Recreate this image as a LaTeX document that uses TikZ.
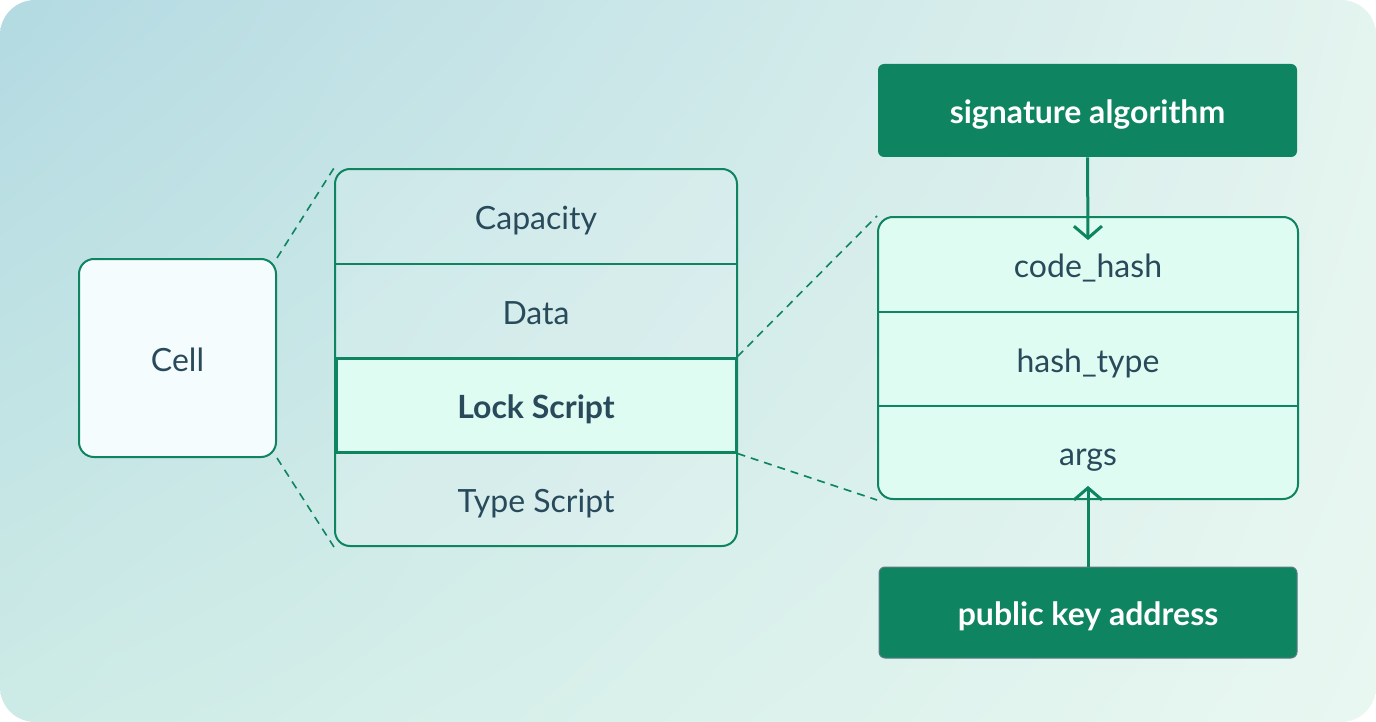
\documentclass[tikz,border=0pt]{standalone}
\usepackage{fontspec}
\setmainfont{Lato}
\usetikzlibrary{arrows.meta,shadings}
\definecolor{cellgreen}{HTML}{0E8560}
\definecolor{inktext}{HTML}{284A5B}
\definecolor{mint}{HTML}{DFFCF2}
\definecolor{paleblue}{HTML}{F5FCFE}
\definecolor{edgegrey}{HTML}{5E7C85}
\definecolor{bgtl}{HTML}{B3DAE2}
\definecolor{bgtr}{HTML}{E4F4EF}
\definecolor{bgbl}{HTML}{CDEBE6}
\definecolor{bgbr}{HTML}{E9F7F1}
\tikzset{
  box/.style={draw=cellgreen, line width=1pt, rounded corners=7.5pt, inner sep=0pt},
  row/.style={inner sep=0pt, text=inktext, text height=13pt, text depth=0pt,
    font=\fontsize{16}{19}\selectfont},
  sep/.style={draw=cellgreen, line width=1pt},
  dashlink/.style={cellgreen, line width=0.8pt, dash pattern=on 4pt off 3pt},
  darkbox/.style={fill=cellgreen, rounded corners=3pt, text=white, inner sep=0pt,
    text height=13pt, text depth=0pt, font=\fontsize{16}{19}\selectfont\bfseries},
  feed/.style={cellgreen, line width=1.5pt,
    -{Straight Barb[length=6pt,width=14pt,line width=1.5pt]}}
}
\begin{document}
\begin{tikzpicture}[x=0.5pt,y=-0.5pt]
      \useasboundingbox (0,0) rectangle (1376,722);
      \shade[upper left=bgtl, upper right=bgtr, lower left=bgbl, lower right=bgbr,
        rounded corners=17.5pt] (0,0) rectangle (1376,722);
      % cell
      \node [box, fill=paleblue, row, minimum width=98.5pt, minimum height=99pt] (cell) at (177.5,358) {Cell};
      % cell fields
      \node [box, fill=white, fill opacity=0.15, minimum width=201pt, minimum height=188.5pt] (stack) at (536,357.5) {};
      \node [row, minimum width=201pt, minimum height=47pt] (capacity) at (536,216.5) {Capacity};
      \node [row, minimum width=201pt, minimum height=47pt] (data) at (536,311) {Data};
      \node [row, minimum width=201pt, minimum height=47pt] (typescript) at (536,499) {Type Script};
      \draw [sep] (capacity.south west) -- (capacity.south east);
      \node [row, draw=cellgreen, line width=1.5pt, fill=mint, font=\fontsize{16}{19}\selectfont\bfseries,
        minimum width=200pt, minimum height=47pt] (lock) at (536,405) {Lock Script};
      % script
      \node [box, fill=mint, minimum width=210pt, minimum height=141pt] (script) at (1088,358) {};
      \node [row, minimum width=210pt, minimum height=47pt] (codehash) at (1088,264.5) {code\_hash};
      \node [row, minimum width=210pt, minimum height=47pt] (hashtype) at (1088,359) {hash\_type};
      \node [row, minimum width=210pt, minimum height=47pt] (args) at (1088,452.5) {args};
      \draw [sep] (hashtype.north west) -- (hashtype.north east);
      \draw [sep] (hashtype.south west) -- (hashtype.south east);
      \node [darkbox, minimum width=209.5pt, minimum height=46.5pt] (sigalg) at (1087.5,110.5) {signature algorithm};
      \node [darkbox, draw=edgegrey, line width=0.5pt, minimum width=209pt, minimum height=45.5pt] (pubkey) at (1088,612.5) {public key address};
      % links
      \draw [dashlink] (cell.north east) -- (stack.north west);
      \draw [dashlink] (cell.south east) -- (stack.south west);
      \draw [dashlink] (lock.north east) -- (script.north west);
      \draw [dashlink] (lock.south east) -- (script.south west);
      \draw [feed] (sigalg.south) -- ([yshift=-11.5pt]codehash.north);
      \draw [feed] (pubkey.north) -- ([yshift=7pt]args.south);
   \end{tikzpicture}
\end{document}
